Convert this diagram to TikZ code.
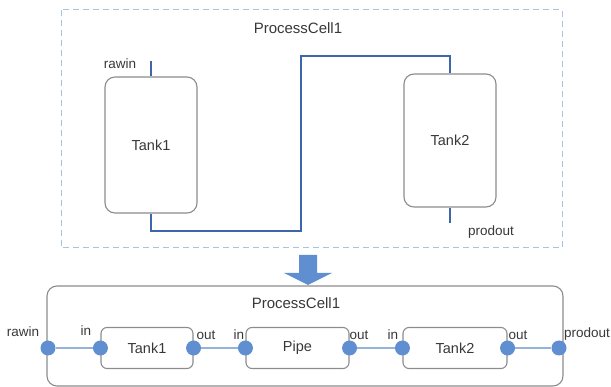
\documentclass[tikz,border=0pt]{standalone}
\usepackage{fontspec}
\setmainfont{Liberation Sans}
\usetikzlibrary{positioning}

\definecolor{pipeblue}{HTML}{3D67AC}
\definecolor{portblue}{HTML}{5F8FD0}
\definecolor{linkblue}{HTML}{94B3DC}
\definecolor{cellblue}{HTML}{A9C2E4}
\definecolor{boxgray}{HTML}{8C8C8C}
\definecolor{txtgray}{HTML}{383838}

\tikzset{
  title/.style={text=txtgray, font=\fontsize{15}{18}\selectfont},
  small/.style={text=txtgray, font=\fontsize{13.5}{16}\selectfont, anchor=base},
  tank/.style={draw=boxgray, line width=1.1pt, rounded corners=10pt,
    minimum width=92pt, minimum height=136pt, text=txtgray,
    font=\fontsize{14.5}{17}\selectfont},
  unit/.style={draw=boxgray, line width=1.1pt, rounded corners=6pt,
    minimum height=41pt, text=txtgray, font=\fontsize{14.5}{17}\selectfont},
  frame/.style={draw=boxgray, line width=1.1pt, rounded corners=10pt},
  cell/.style={draw=cellblue, line width=1pt, dash pattern=on 6pt off 4pt},
  port/.style={circle, fill=portblue, inner sep=0pt, minimum size=15pt},
  pipe/.style={draw=pipeblue, line width=2.6pt},
  link/.style={draw=linkblue, line width=1.4pt}
}

\begin{document}
\begin{tikzpicture}[x=1pt,y=-1pt]
\useasboundingbox (0,0) rectangle (611,387);
    % physical view
    \begin{scope}
\draw[cell] (61,10) rectangle (562,248);
\node[title] (cell) at (298,28) {ProcessCell1};
\node[tank] (tank1) at (151,145) {Tank1};
\node[tank, minimum height=133pt] (tank2) at (450,140.5) {Tank2};
\coordinate (rawtop) at (151,61);
\coordinate (prodend) at (450,223);
\coordinate (bend1) at (301,231);
\coordinate (bend2) at (301,56);
\draw[pipe] (rawtop) -- (tank1.north);
\draw[pipe] (tank1.south) |- (bend1) -- (bend2) -| (tank2.north);
\draw[pipe] (tank2.south) -- (prodend);
\node[small] (rawin) at (120,69) {rawin};
\node[small] (prodout) at (491,236) {prodout};
    \end{scope}
    % block arrow
\fill[portblue] (299,255) -- (317,255) -- (317,273) -- (332,273) -- (308,285)
  -- (284,273) -- (299,273) -- cycle;
    % model view
    \begin{scope}
\node[frame, minimum width=516pt, minimum height=100pt] (proc) at (305,336) {};
\node[title] (cell2) at (296,303) {ProcessCell1};
\node[unit, minimum width=92pt] (u1) at (147,348) {Tank1};
\node[unit, minimum width=103pt] (u2) at (297.5,348) {Pipe};
\node[unit, minimum width=104pt] (u3) at (455,348) {Tank2};
\node[port] (rawport) at (48,348) {};
\node[port] (u1in) at (u1.west) {};
\node[port] (u1out) at (u1.east) {};
\node[port] (u2in) at (u2.west) {};
\node[port] (u2out) at (u2.east) {};
\node[port] (u3in) at (u3.west) {};
\node[port] (u3out) at (u3.east) {};
\node[port] (prodport) at (559,348) {};
\draw[link] (rawport) -- (u1in);
\draw[link] (u1out) -- (u2in);
\draw[link] (u2out) -- (u3in);
\draw[link] (u3out) -- (prodport);
\node[small] (lrawin) at (23,337) {rawin};
\node[small] (l1in) at (86,336) {in};
\node[small] (l1out) at (206,340) {out};
\node[small] (l2in) at (239,340) {in};
\node[small] (l2out) at (359,340) {out};
\node[small] (l3in) at (393,340) {in};
\node[small] (l3out) at (518,340) {out};
\node[small] (lprodout) at (587,338) {prodout};
    \end{scope}
\end{tikzpicture}
\end{document}
